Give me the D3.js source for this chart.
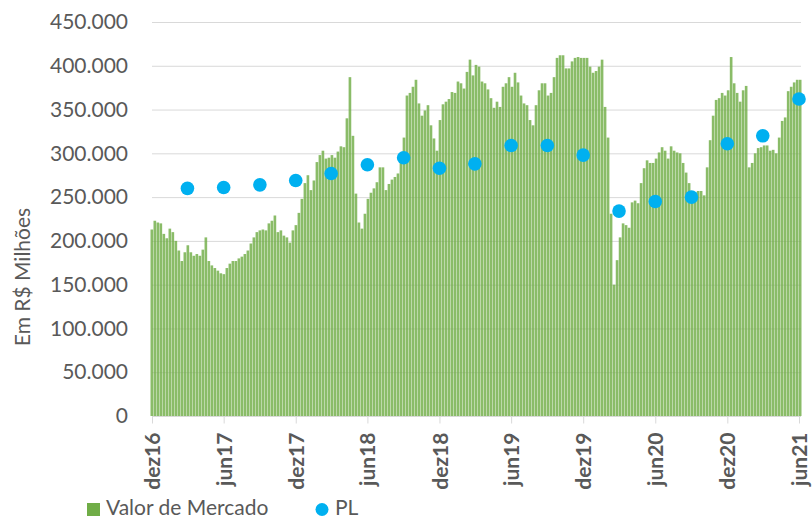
<!DOCTYPE html>
<html>
<head>
<meta charset="utf-8">
<script src="https://d3js.org/d3.v7.min.js"></script>
<style>
  body { margin: 0; background: #fff; }
  svg text { font-family: Lato, "Liberation Sans", sans-serif; fill: #595959; }
</style>
</head>
<body>
<svg id="chart" width="812" height="520"></svg>
<script>
// Valor de Mercado (R$ mil milhões), leitura semanal aproximada dez16 -> jun21
const valorMercado = [
  213, 223, 221, 220, 208, 203, 214, 210, 200, 189, 177, 187, 195, 187, 183, 185, 183, 190, 204, 177,
  172, 169, 166, 163, 162, 169, 174, 177, 177, 180, 182, 185, 189, 197, 204, 210, 212, 213, 212, 220,
  223, 229, 210, 212, 206, 204, 198, 212, 218, 232, 248, 266, 275, 258, 269, 290, 298, 303, 294, 295,
  298, 295, 302, 308, 307, 340, 387, 320, 254, 221, 214, 231, 248, 255, 260, 267, 284, 284, 258, 265,
  270, 273, 277, 295, 318, 366, 369, 376, 384, 357, 343, 349, 355, 332, 317, 303, 338, 356, 359, 362,
  370, 369, 382, 380, 374, 393, 407, 389, 401, 399, 382, 380, 373, 363, 352, 359, 353, 376, 380, 387,
  376, 392, 381, 366, 357, 355, 338, 332, 355, 372, 380, 380, 366, 369, 387, 409, 412, 412, 397, 397,
  405, 409, 410, 409, 409, 409, 399, 392, 394, 399, 407, 353, 318, 231, 150, 178, 204, 220, 218, 215,
  244, 246, 243, 266, 283, 292, 289, 289, 294, 301, 307, 303, 294, 308, 303, 301, 300, 289, 278, 266,
  255, 248, 257, 257, 252, 284, 315, 343, 361, 363, 369, 366, 372, 410, 380, 369, 359, 372, 377, 284,
  289, 300, 306, 307, 309, 309, 303, 304, 300, 318, 337, 341, 371, 376, 381, 384, 384
];

// PL trimestral
const plDatas = ["2017-03", "2017-06", "2017-09", "2017-12", "2018-03", "2018-06", "2018-09", "2018-12",
  "2019-03", "2019-06", "2019-09", "2019-12", "2020-03", "2020-06", "2020-09", "2020-12", "2021-03", "2021-06"];
const plValores = [260, 261, 264, 269, 277, 287, 295, 283, 288, 309, 309, 298, 234, 245, 250, 311, 320, 362];

// eixos
const tickDatas = ["2016-12", "2017-06", "2017-12", "2018-06", "2018-12", "2019-06", "2019-12", "2020-06", "2020-12", "2021-06"];
const tickLabels = ["dez16", "jun17", "dez17", "jun18", "dez18", "jun19", "dez19", "jun20", "dez20", "jun21"];
const yTicks = [0, 50, 100, 150, 200, 250, 300, 350, 400, 450];

const parseMes = d3.timeParse("%Y-%m");
const fmt = d3.formatLocale({decimal: ",", thousands: ".", grouping: [3], currency: ["R$", ""]}).format(",");

const svg = d3.select("#chart");
const plotLeft = 152, plotRight = 799, plotTop = 22, plotBottom = 416;

let x = d3.scaleTime()
    .domain([parseMes("2016-12"), parseMes("2021-06")])
    .range([plotLeft, plotRight]);
let xBar = d3.scaleBand()
    .domain(d3.range(valorMercado.length))
    .range([plotLeft - 1.5, plotRight + 2.5])
    .paddingInner(0.12);
let y = d3.scaleLinear().domain([0, 450]).range([plotBottom, plotTop]);

// linhas de grade
svg.append("g").selectAll("line")
    .data(yTicks.slice(1))
    .enter().append("line")
    .attr("x1", plotLeft).attr("x2", plotRight + 2)
    .attr("y1", d => y(d) + 0.5).attr("y2", d => y(d) + 0.5)
    .attr("stroke", "#d9d9d9").attr("stroke-width", 1);

// barras do valor de mercado
svg.append("g").selectAll("rect")
    .data(valorMercado)
    .enter().append("rect")
    .attr("x", (d, i) => xBar(i))
    .attr("width", xBar.bandwidth())
    .attr("y", d => y(d))
    .attr("height", d => plotBottom - y(d))
    .attr("fill", "#70ad47")
    .attr("fill-opacity", 0.82);

// eixo x
let xAxis = svg.append("g")
    .attr("transform", "translate(0," + (plotBottom + 0.5) + ")")
    .call(d3.axisBottom(x)
        .tickValues(tickDatas.map(parseMes))
        .tickFormat((d, i) => tickLabels[i])
        .tickSizeInner(7).tickSizeOuter(0));
xAxis.select(".domain").attr("stroke", "#d9d9d9").attr("d", "M" + plotLeft + ",0H" + (plotRight + 2));
xAxis.selectAll(".tick line").attr("stroke", "#d9d9d9");
xAxis.selectAll(".tick text")
    .attr("transform", "rotate(-90)")
    .attr("x", -16).attr("y", 0).attr("dy", "0.36em")
    .style("text-anchor", "end")
    .style("font-size", "21px")
    .style("font-weight", "bold");

// eixo y
let yAxis = svg.append("g")
    .attr("transform", "translate(" + plotLeft + ",0)")
    .call(d3.axisLeft(y).tickValues(yTicks).tickFormat(d => fmt(d * 1000)).tickSize(0).tickPadding(24));
yAxis.select(".domain").remove();
yAxis.selectAll(".tick text").style("font-size", "21px");

svg.append("text")
    .attr("transform", "translate(30,277) rotate(-90)")
    .style("text-anchor", "middle")
    .style("font-size", "21px")
    .text("Em R$ Milhões");

// pontos do PL
svg.append("g").selectAll("circle")
    .data(plValores)
    .enter().append("circle")
    .attr("cx", (d, i) => x(parseMes(plDatas[i])))
    .attr("cy", d => y(d))
    .attr("r", 6.8)
    .attr("fill", "#00b0f0");

// legenda
let legend = svg.append("g");
legend.append("rect").attr("x", 87).attr("y", 503).attr("width", 13).attr("height", 13).attr("fill", "#70ad47");
legend.append("text").attr("x", 106).attr("y", 515).style("font-size", "21px").text("Valor de Mercado");
legend.append("circle").attr("cx", 322).attr("cy", 509.5).attr("r", 6.5).attr("fill", "#00b0f0");
legend.append("text").attr("x", 335).attr("y", 515).style("font-size", "21px").text("PL");
</script>
</body>
</html>
